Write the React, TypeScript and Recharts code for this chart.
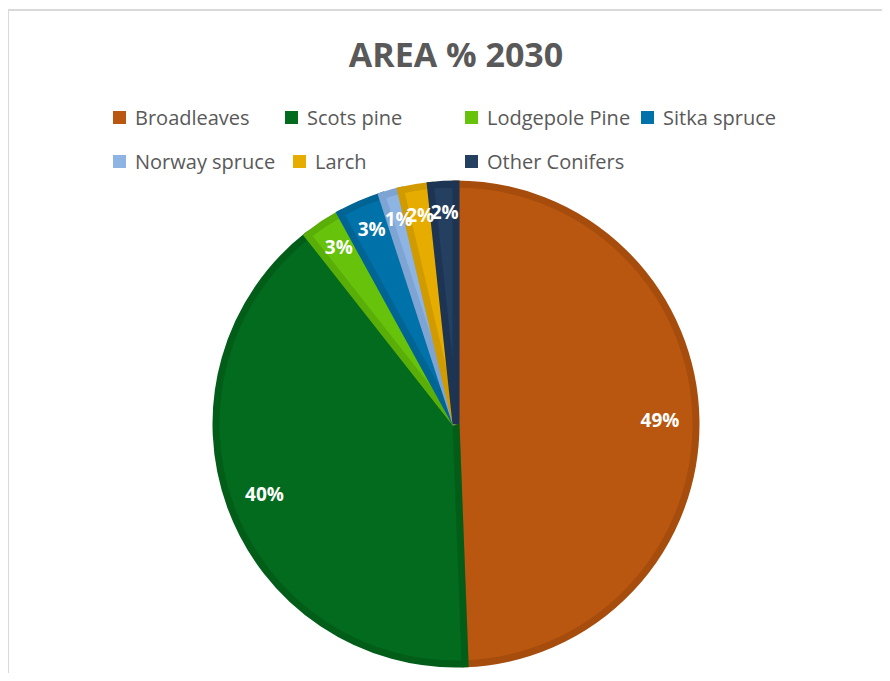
import { Cell, Pie, PieChart } from "recharts"

const species = ["Broadleaves", "Scots pine", "Lodgepole Pine", "Sitka spruce", "Norway spruce", "Larch", "Other Conifers"]
const areaShare = [49.4, 40.0, 2.6, 3.0, 1.3, 2.0, 1.7]
const fills = ["#B95710", "#036B1E", "#66C20A", "#0072AA", "#8DB4E2", "#E6AC00", "#243F60"]
const edges = ["#A64C0C", "#025D19", "#5AAE08", "#006594", "#7DA4D2", "#D19B00", "#1D3452"]

// legend item positions (x of swatch, row)
const legendSpots = [
  { x: 113, row: 0 },
  { x: 285, row: 0 },
  { x: 465, row: 0 },
  { x: 641, row: 0 },
  { x: 113, row: 1 },
  { x: 293, row: 1 },
  { x: 465, row: 1 },
]

const data = species.map((name, i) => ({ name, value: areaShare[i] }))

const RADIAN = Math.PI / 180

function renderLabel(props: any) {
  const { cx, cy, midAngle, outerRadius, percent } = props
  const r = outerRadius * (percent > 0.1 ? 0.85 : 0.885)
  const x = cx + r * Math.cos(-midAngle * RADIAN)
  const y = cy + r * Math.sin(-midAngle * RADIAN)
  return (
    <text
      x={x}
      y={y}
      fill="#fff"
      textAnchor="middle"
      dominantBaseline="central"
      fontSize={19}
      fontWeight={700}
      fontFamily="'Open Sans', sans-serif"
    >
      {`${Math.round(percent * 100)}%`}
    </text>
  )
}

function LegendBox() {
  return (
    <div style={{ position: "absolute", left: 0, top: 96, width: 882, height: 80 }}>
      {species.map((name, i) => (
        <div
          key={name}
          style={{
            position: "absolute",
            left: legendSpots[i].x - 8,
            top: legendSpots[i].row * 44,
            display: "flex",
            alignItems: "center",
            whiteSpace: "nowrap",
          }}
        >
          <span style={{ width: 13, height: 13, background: fills[i], marginRight: 9 }} />
          <span style={{ fontSize: 20, color: "#595959", fontFamily: "'Open Sans', sans-serif" }}>{name}</span>
        </div>
      ))}
    </div>
  )
}

export default function App() {
  return (
    <div style={{ position: "relative", width: 882, height: 665, overflow: "hidden", background: "#fff" }}>
      <div
        style={{
          position: "absolute",
          left: -1,
          top: 1,
          width: 900,
          height: 700,
          borderTop: "2px solid #d9d9d9",
          borderLeft: "2px solid #d9d9d9",
        }}
      />
      <div
        style={{
          position: "absolute",
          left: 0,
          width: 882,
          top: 23,
          textAlign: "center",
          paddingLeft: 14,
          boxSizing: "border-box",
          fontFamily: "'Open Sans', sans-serif",
          fontWeight: 700,
          fontSize: 34,
          color: "#595959",
        }}
      >
        AREA % 2030
      </div>
      <LegendBox />
      <PieChart
        width={882}
        height={665}
        margin={{ top: 0, right: 0, bottom: 0, left: 0 }}
        style={{ position: "absolute", left: 0, top: 0 }}
      >
        <Pie
          data={data}
          dataKey="value"
          nameKey="name"
          cx={448}
          cy={416}
          outerRadius={240}
          startAngle={90}
          endAngle={-270}
          label={renderLabel}
          labelLine={false}
          isAnimationActive={false}
        >
          {data.map((d, i) => (
            <Cell key={d.name} fill={fills[i]} stroke={edges[i]} strokeWidth={7} strokeLinejoin="miter" />
          ))}
        </Pie>
      </PieChart>
    </div>
  )
}
